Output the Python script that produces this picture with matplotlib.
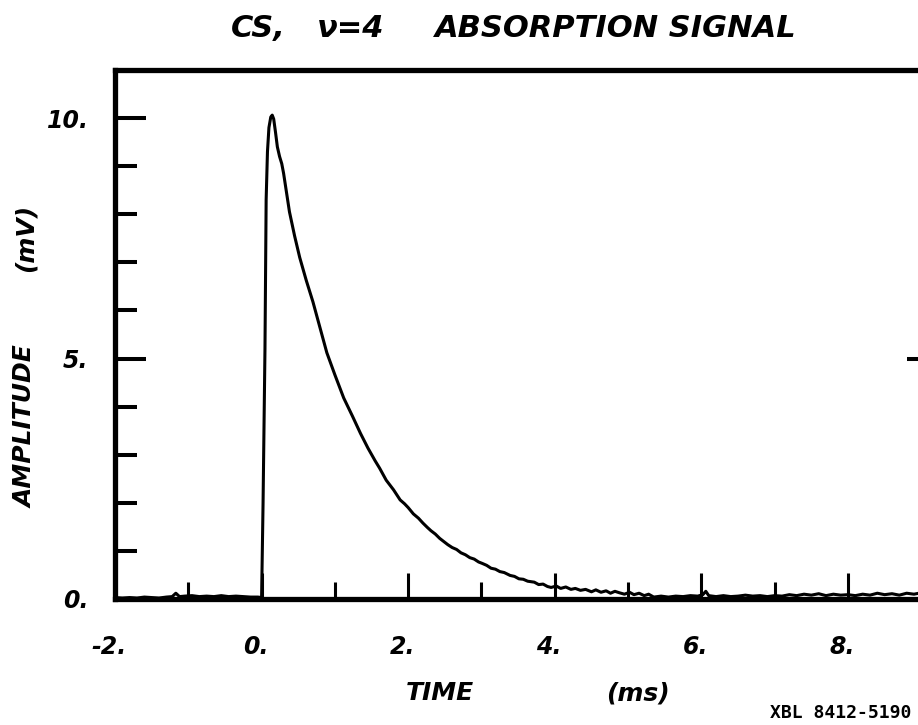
import matplotlib
matplotlib.use("Agg")
import matplotlib.pyplot as plt
import matplotlib.transforms as mtransforms

# ---------------- data ----------------
time_ms = [
    -2.00, -1.90, -1.80, -1.70, -1.60, -1.50, -1.40, -1.30, -1.22, -1.17,
    -1.12, -1.05, -0.95, -0.85, -0.75, -0.65, -0.55, -0.45, -0.35, -0.25,
    -0.15, -0.05, 0.00,
    0.02, 0.046, 0.062, 0.08, 0.10, 0.125, 0.145, 0.165, 0.19, 0.215,
    0.245, 0.275, 0.30, 0.33, 0.38, 0.45, 0.52, 0.61, 0.70, 0.80,
    0.89, 1.00, 1.12, 1.24, 1.35, 1.45, 1.55, 1.61, 1.70, 1.80,
    1.89, 1.95, 2.00, 2.07, 2.14, 2.20, 2.26, 2.31, 2.37, 2.43,
    2.48, 2.54, 2.60, 2.66, 2.72, 2.78, 2.84, 2.90, 2.96, 3.01,
    3.07, 3.13, 3.19, 3.25, 3.31, 3.39, 3.45, 3.51, 3.57, 3.63,
    3.72, 3.78, 3.84, 3.90, 3.95, 4.02, 4.08, 4.15, 4.22, 4.28,
    4.35, 4.42, 4.50, 4.56, 4.63, 4.70, 4.76, 4.82, 4.88, 4.95,
    5.02, 5.08, 5.15, 5.22, 5.28, 5.35, 5.45, 5.55, 5.65, 5.75,
    5.85, 5.95, 6.02, 6.06, 6.10, 6.20, 6.30, 6.40, 6.50, 6.60,
    6.70, 6.80, 6.90, 7.00, 7.10, 7.20, 7.30, 7.40, 7.50, 7.60,
    7.70, 7.80, 7.90, 8.00, 8.10, 8.20, 8.30, 8.40, 8.50, 8.60,
    8.70, 8.80, 8.90, 9.00, 9.10, 9.25,
]
amplitude_mv = [
    0.03, 0.02, 0.03, 0.02, 0.04, 0.03, 0.02, 0.04, 0.05, 0.12,
    0.05, 0.06, 0.07, 0.05, 0.06, 0.05, 0.07, 0.05, 0.06, 0.05,
    0.04, 0.04, 0.03,
    2.00, 5.20, 8.30, 9.30, 9.80, 10.02, 10.06, 9.98, 9.70, 9.40,
    9.20, 9.05, 8.85, 8.55, 8.05, 7.55, 7.10, 6.62, 6.18, 5.62,
    5.12, 4.66, 4.18, 3.80, 3.44, 3.14, 2.87, 2.72, 2.47, 2.27,
    2.06, 1.98, 1.90, 1.77, 1.68, 1.58, 1.49, 1.42, 1.35, 1.26,
    1.20, 1.13, 1.07, 1.03, 0.96, 0.92, 0.86, 0.83, 0.77, 0.74,
    0.70, 0.64, 0.62, 0.57, 0.55, 0.49, 0.47, 0.42, 0.41, 0.37,
    0.35, 0.30, 0.31, 0.26, 0.24, 0.27, 0.22, 0.25, 0.20, 0.22,
    0.18, 0.20, 0.15, 0.19, 0.14, 0.17, 0.12, 0.16, 0.13, 0.10,
    0.14, 0.09, 0.12, 0.07, 0.10, 0.04, 0.06, 0.04, 0.06, 0.05,
    0.07, 0.06, 0.09, 0.16, 0.07, 0.05, 0.07, 0.05, 0.06, 0.08,
    0.06, 0.07, 0.05, 0.07, 0.06, 0.09, 0.07, 0.10, 0.08, 0.11,
    0.07, 0.10, 0.08, 0.09, 0.07, 0.10, 0.08, 0.12, 0.09, 0.11,
    0.08, 0.12, 0.10, 0.13, 0.09, 0.11,
]

x_major = [-2, 0, 2, 4, 6, 8]
x_minor = [-1, 1, 3, 5, 7, 9]
x_labels = ["-2.", "0.", "2.", "4.", "6.", "8."]
y_major = [0, 5, 10]
y_minor = [1, 2, 3, 4, 6, 7, 8, 9]
y_labels = ["0.", "5.", "10."]
right_ticks = [5]

title_parts = ["CS,", "\u03bd=4", "ABSORPTION SIGNAL"]
x_title = "TIME"
x_unit = "(ms)"
y_title = "AMPLITUDE"
y_unit = "(mV)"
stamp = "XBL 8412-5190"

# ---------------- layout ----------------
W, H = 918, 725
fig = plt.figure(figsize=(W / 100, H / 100), dpi=100)
fig.patch.set_facecolor("white")

xmin, xmax = -2.0, 9.25
ymin, ymax = 0.0, 11.0
px_per_ms = 73.3
px_per_mv = 48.1
left_px = 115
bottom_px = 599
right_px = left_px + (xmax - xmin) * px_per_ms
top_px = bottom_px - (ymax - ymin) * px_per_mv

ax = fig.add_axes([left_px / W, 1 - bottom_px / H,
                   (right_px - left_px) / W, (bottom_px - top_px) / H])
ax.set_xlim(xmin, xmax)
ax.set_ylim(ymin, ymax)

ax.plot(time_ms, amplitude_mv, color="black", lw=2.2,
        solid_joinstyle="round", solid_capstyle="round", zorder=3)

for s in ax.spines.values():
    s.set_linewidth(3.8)
    s.set_color("black")

tick_font = dict(family="DejaVu Sans", weight="bold", style="italic", size=17)

ax.set_xticks(x_major)
ax.set_xticks(x_minor, minor=True)
ax.set_xticklabels(x_labels, fontdict=tick_font)
ax.set_yticks(y_major)
ax.set_yticks(y_minor, minor=True)
ax.set_yticklabels(y_labels, fontdict=tick_font)

ax.tick_params(axis="x", which="major", direction="in", length=19, width=2.2,
               pad=26, colors="black")
ax.tick_params(axis="x", which="minor", direction="in", length=12, width=2.2)
ax.tick_params(axis="y", which="major", direction="in", length=22, width=2.9,
               pad=19, colors="black")
ax.tick_params(axis="y", which="minor", direction="in", length=16, width=2.9)

shift = mtransforms.ScaledTranslation(-6 / 100, 0, fig.dpi_scale_trans)
for lab in ax.get_xticklabels():
    lab.set_transform(lab.get_transform() + shift)

# right-hand tick (only one visible at the edge)
tw = ax.twinx()
tw.set_ylim(ymin, ymax)
tw.set_yticks(right_ticks)
tw.tick_params(axis="y", direction="in", length=24, width=2.9, labelright=False)
for s in tw.spines.values():
    s.set_visible(False)

# ---------------- texts ----------------
title_font = dict(family="DejaVu Sans", weight="bold", style="italic", size=22)
centers = [258, 351, 616]
for txt, cx in zip(title_parts, centers):
    fig.text(cx / W, 1 - 37 / H, txt, ha="center", va="baseline", **title_font)

label_font = dict(family="DejaVu Sans", weight="bold", style="italic", size=18)
fig.text(440 / W, 1 - 700 / H, x_title, ha="center", va="baseline", **label_font)
fig.text(638 / W, 1 - 700 / H, x_unit, ha="center", va="baseline", **label_font)
fig.text(26 / W, 1 - 427 / H, y_title, ha="center", va="center", rotation=90,
         **label_font)
fig.text(26 / W, 1 - 238 / H, y_unit, ha="center", va="center", rotation=90,
         **label_font)

fig.text(770 / W, 1 - 718 / H, stamp, ha="left", va="baseline",
         family="DejaVu Sans Mono", weight="bold", size=13)

fig.savefig("out.png", dpi=100, facecolor="white")
